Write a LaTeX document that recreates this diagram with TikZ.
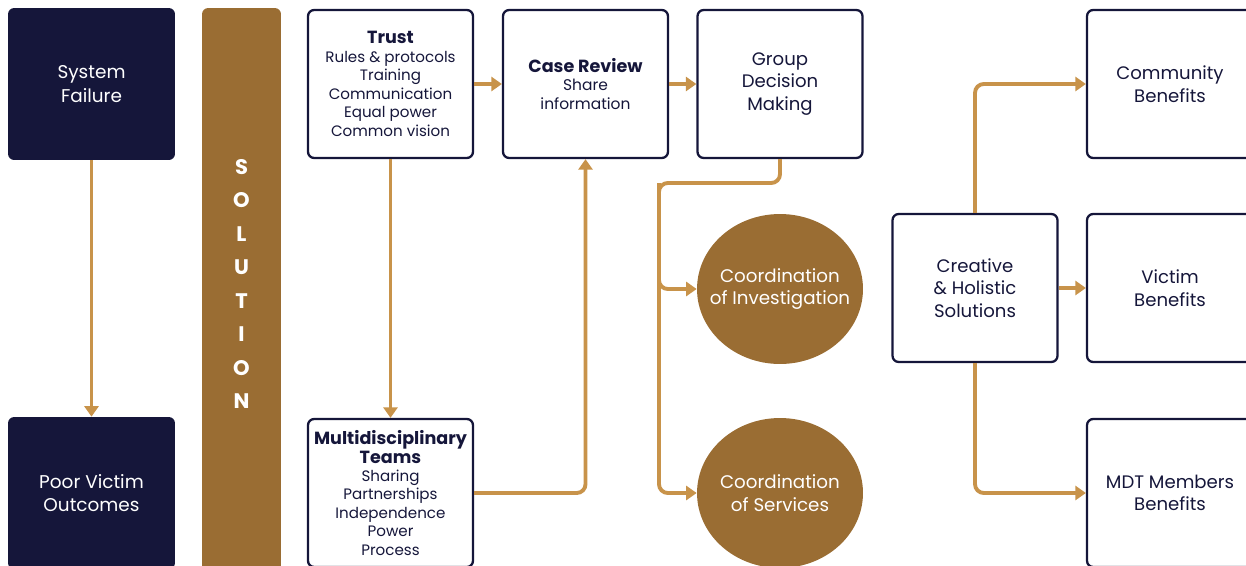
\documentclass[tikz,border=0pt]{standalone}
\usepackage{fontspec}
\setmainfont{Poppins}
\usetikzlibrary{arrows.meta,positioning,shapes.geometric}
\definecolor{navy}{HTML}{15163A}
\definecolor{gold}{HTML}{C8934A}
\definecolor{bronze}{HTML}{9A6D33}

\begin{document}
\begin{tikzpicture}[x=0.02cm,y=-0.02cm,
  darkbox/.style={rectangle,rounded corners=3.5pt,fill=navy,text=white,
    minimum width=3.34cm,minimum height=3.04cm,align=center,
    font=\fontsize{10.5}{13.5}\selectfont},
  linebox/.style={rectangle,rounded corners=3.5pt,draw=navy,line width=1.3pt,
    text=navy,minimum width=3.3cm,minimum height=2.96cm,align=center,
    font=\fontsize{10.3}{12.8}\selectfont},
  listbox/.style={linebox,font=\fontsize{8.6}{10.5}\selectfont},
  blob/.style={ellipse,fill=bronze,text=white,minimum width=3.32cm,
    minimum height=3cm,inner xsep=-12pt,inner ysep=-6pt,align=center,
    font=\fontsize{10.4}{13}\selectfont},
  flow/.style={draw=gold,line width=2.2pt,rounded corners=5pt,
    -{Triangle[length=6pt,width=8pt]}}
]
  \clip (0,0) rectangle (1246,565);

  % problem side
  \node[darkbox] (sysfail) at (91.5,84) {System\\Failure};
  \node[darkbox] (poor) at (91.5,493) {Poor Victim\\Outcomes};
  \draw[flow] (sysfail) -- (poor);

  % solution bar
  \node[fill=bronze,rounded corners=3.5pt,minimum width=1.58cm,
    minimum height=11.4cm] (solbar) at (241.5,293) {};
  \foreach \ch [count=\i] in {S,O,L,U,T,I,O,N}
    \node[text=white,font=\fontsize{12}{12}\selectfont\bfseries]
      (sol\i) at (241.5,133.5+\i*33.5) {\ch};

  % first row
  \node[listbox] (trust) at (390.5,84)
    {{\fontsize{10}{10.5}\selectfont\bfseries Trust}\\Rules \& protocols\\
     Training\\Communication\\Equal power\\Common vision};
  \node[listbox,font=\fontsize{8.8}{10.5}\selectfont] (case) at (585.5,84)
    {{\fontsize{10}{10.5}\selectfont\bfseries Case Review}\\Share\\information};
  \node[linebox] (group) at (780,84) {Group\\Decision\\Making};
  \node[listbox] (mdt) at (390.5,493)
    {{\fontsize{10}{10.5}\selectfont\bfseries Multidisciplinary}\\
     {\fontsize{10}{10.5}\selectfont\bfseries Teams}\\Sharing\\Partnerships\\
     Independence\\Power\\Process};

  \draw[flow] (trust) -- (case);
  \draw[flow] (case) -- (group);
  \draw[flow] (trust) -- (mdt);
  \draw[flow] (mdt.east) -| (case.south);

  % coordination
  \node[blob] (coinv) at (780,289) {Coordination\\of Investigation};
  \node[blob] (cosrv) at (780,493) {Coordination\\of Services};
  \coordinate (split) at (659,183);
  \draw[flow] (group.south) |- (split) |- (coinv.west);
  \draw[flow] (split) |- (cosrv.west);

  % outcomes
  \node[linebox] (creative) at (975,288) {Creative\\\& Holistic\\Solutions};
  \node[linebox,minimum width=3.32cm] (community) at (1170,84)
    {Community\\Benefits};
  \node[linebox,minimum width=3.32cm] (victim) at (1170,288)
    {Victim\\Benefits};
  \node[linebox,minimum width=3.32cm] (mdtben) at (1170,493)
    {MDT Members\\Benefits};

  \draw[flow] (creative.north) |- (community.west);
  \draw[flow] (creative) -- (victim);
  \draw[flow] (creative.south) |- (mdtben.west);
\end{tikzpicture}
\end{document}
